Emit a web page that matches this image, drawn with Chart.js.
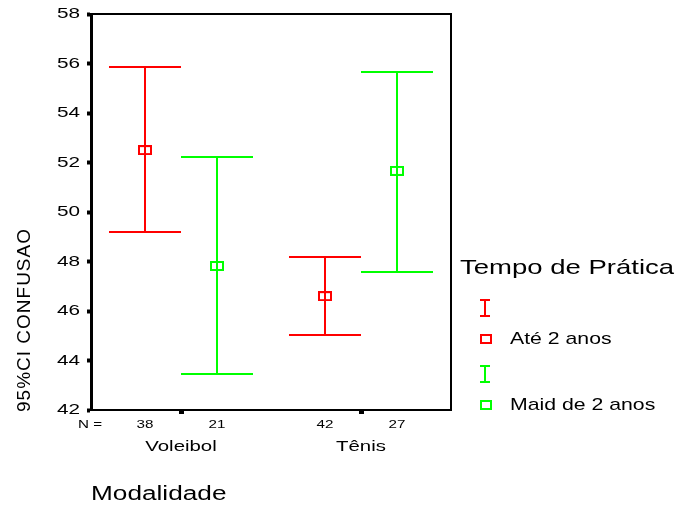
<!DOCTYPE html>
<html>
<head>
<meta charset="utf-8">
<script src="https://cdn.jsdelivr.net/npm/chart.js@4"></script>
<style>
  html, body { margin: 0; padding: 0; background: #fff; }
  #wrap { width: 677px; height: 505px; position: relative; }
</style>
</head>
<body>
<div id="wrap"><canvas id="chart"></canvas></div>
<script>
// Error bar chart: 95% CI of CONFUSAO by Modalidade, split by Tempo de Prática.
const groups = ['Voleibol', 'Tênis'];
const groupCenters = [2.5, 7.5];
const seriesNames = ['Até 2 anos', 'Maid de 2 anos'];
const seriesColors = ['#ff0000', '#00ff00'];
const seriesOffsets = [-1, 1];
const means = [[52.5, 46.6], [47.82, 51.66]];
const lowers = [[49.19, 45.03], [43.45, 47.58]];
const uppers = [[55.86, 48.18], [52.22, 55.66]];
const counts = [[38, 42], [21, 27]];
const yTickValues = [42, 44, 46, 48, 50, 52, 54, 56, 58];

const FONT = '"Liberation Sans", Arial, sans-serif';

// hollow rectangle used as the mean marker
function makeBox(color) {
    const c = document.createElement('canvas');
    c.width = 14; c.height = 10;
    const g = c.getContext('2d');
    g.strokeStyle = color;
    g.lineWidth = 2;
    g.strokeRect(1, 1, 12, 8);
    return c;
}

// the original's type is stretched sideways, so text is drawn with a horizontal scale
function wideText(ctx, text, x, y, size, sx, align) {
    ctx.save();
    ctx.translate(x, y);
    ctx.scale(sx, 1);
    ctx.font = size + 'px ' + FONT;
    ctx.textAlign = align || 'left';
    ctx.textBaseline = 'middle';
    ctx.fillStyle = '#000';
    ctx.fillText(text, 0, 0);
    ctx.restore();
}

const datasets = seriesNames.map((name, si) => ({
    label: name,
    data: groups.map((g, gi) => ({
        x: groupCenters[gi] + seriesOffsets[si],
        y: means[si][gi],
        lo: lowers[si][gi],
        hi: uppers[si][gi]
    })),
    pointStyle: makeBox(seriesColors[si]),
    borderColor: seriesColors[si],
    showLine: false
}));

// whiskers + caps, drawn under the markers
const errorBarPlugin = {
    id: 'errorBars',
    beforeDatasetsDraw(chart) {
        const xs = chart.scales.x, ys = chart.scales.y;
        const ctx = chart.ctx;
        ctx.save();
        chart.data.datasets.forEach(ds => {
            ctx.strokeStyle = ds.borderColor;
            ctx.lineWidth = 2;
            ds.data.forEach(p => {
                const x = Math.round(xs.getPixelForValue(p.x));
                const xl = xs.getPixelForValue(p.x - 1.0);
                const xr = xs.getPixelForValue(p.x + 1.0);
                const yl = Math.round(ys.getPixelForValue(p.lo));
                const yh = Math.round(ys.getPixelForValue(p.hi));
                ctx.beginPath();
                ctx.moveTo(x, yl); ctx.lineTo(x, yh);
                ctx.moveTo(xl, yl); ctx.lineTo(xr, yl);
                ctx.moveTo(xl, yh); ctx.lineTo(xr, yh);
                ctx.stroke();
            });
        });
        ctx.restore();
    }
};

// frame, tick labels, N row, axis titles and the side legend
const decorPlugin = {
    id: 'decor',
    afterDraw(chart) {
        const ctx = chart.ctx;
        const a = chart.chartArea;
        const xs = chart.scales.x, ys = chart.scales.y;
        ctx.save();
        ctx.strokeStyle = '#000';
        ctx.lineWidth = 2;
        ctx.beginPath();
        ctx.moveTo(a.left, a.top); ctx.lineTo(a.right, a.top); ctx.lineTo(a.right, a.bottom);
        ctx.stroke();

        yTickValues.forEach(v => wideText(ctx, String(v), 80, ys.getPixelForValue(v), 15, 1.38, 'right'));
        groups.forEach((g, gi) => wideText(ctx, g, xs.getPixelForValue(groupCenters[gi]), 447, 15, 1.36, 'center'));

        wideText(ctx, 'N =', 78, 425, 11, 1.38, 'left');
        seriesNames.forEach((n, si) => {
            groups.forEach((g, gi) => {
                wideText(ctx, String(counts[si][gi]), xs.getPixelForValue(groupCenters[gi] + seriesOffsets[si]), 425, 11, 1.38, 'center');
            });
        });

        wideText(ctx, 'Modalidade', 91, 494, 20, 1.31, 'left');

        ctx.save();
        ctx.translate(25, 412);
        ctx.rotate(-Math.PI / 2);
        ctx.letterSpacing = '1px';
        wideText(ctx, '95%CI CONFUSAO', 0, 0, 19, 1.0, 'left');
        ctx.restore();

        // legend
        wideText(ctx, 'Tempo de Prática', 460, 268, 21, 1.31, 'left');
        const legendY = [[308, 339], [374, 405]];
        seriesNames.forEach((name, si) => {
            const [yI, yB] = legendY[si];
            ctx.strokeStyle = seriesColors[si];
            ctx.lineWidth = 2;
            ctx.beginPath();
            ctx.moveTo(485, yI - 8); ctx.lineTo(485, yI + 8);
            ctx.moveTo(480, yI - 8); ctx.lineTo(490, yI - 8);
            ctx.moveTo(480, yI + 8); ctx.lineTo(490, yI + 8);
            ctx.stroke();
            ctx.strokeRect(481, yB - 4, 10, 8);
            wideText(ctx, name, 510, yB, 17, 1.25, 'left');
        });
        ctx.restore();
    }
};

new Chart(document.getElementById('chart'), {
    type: 'scatter',
    data: { datasets },
    plugins: [errorBarPlugin, decorPlugin],
    options: {
        responsive: true, maintainAspectRatio: false, animation: false,
        layout: { padding: { top: 14, right: 226, left: 0, bottom: 0 } },
        elements: { point: { radius: 5, hoverRadius: 5 } },
        plugins: { legend: { display: false }, tooltip: { enabled: false } },
        scales: {
            x: {
                type: 'linear', min: 0, max: 10,
                afterBuildTicks: s => { s.ticks = groupCenters.map(v => ({ value: v })); },
                afterFit: s => { s.height = 95; },
                ticks: { display: false },
                grid: { drawOnChartArea: false, tickLength: 4, tickWidth: 5, tickColor: '#000' },
                border: { color: '#000', width: 2 }
            },
            y: {
                min: 42, max: 58,
                afterBuildTicks: s => { s.ticks = yTickValues.map(v => ({ value: v })); },
                afterFit: s => { s.width = 91; },
                ticks: { display: false },
                grid: { drawOnChartArea: false, tickLength: 4, tickWidth: 4, tickColor: '#000' },
                border: { color: '#000', width: 3 }
            }
        }
    }
});
</script>
</body>
</html>
